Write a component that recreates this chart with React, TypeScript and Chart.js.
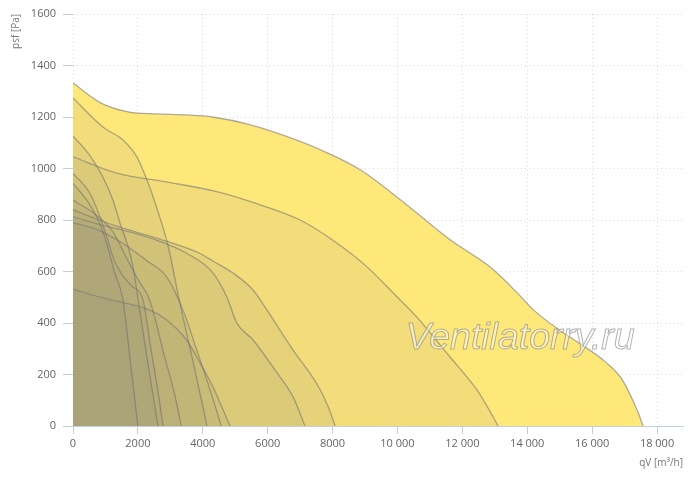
import { Chart, registerables } from 'chart.js';
import { useEffect, useRef } from 'react';

Chart.register(...registerables);

// fan curves: [qV m³/h, psf Pa]
const curveA = [[0, 1332], [850, 1255], [1700, 1220], [2600, 1212], [3500, 1208], [4300, 1200], [5450, 1170], [7000, 1105], [7850, 1060], [8850, 995], [10080, 880], [11600, 725], [12850, 618], [13700, 516], [14200, 450], [15000, 372], [15720, 312], [16400, 250], [16900, 185], [17385, 62], [17570, 0]];
const curveD = [[0, 1045], [1350, 982], [2880, 948], [4430, 910], [5500, 870], [7000, 800], [8000, 722], [9060, 618], [9990, 501], [10600, 423], [11620, 268], [12450, 140], [12950, 35], [13100, 0]];
const curveE = [[0, 840], [800, 800], [1540, 768], [2300, 740], [3080, 709], [3915, 670], [4320, 640], [4932, 594], [5548, 528], [5980, 450], [6782, 295], [7500, 167], [7850, 80], [8080, 0]];
const curveF = [[0, 812], [1030, 776], [2000, 745], [2570, 722], [3500, 671], [4320, 594], [4740, 501], [5050, 400], [5550, 334], [6290, 206], [6782, 113], [7150, 0]];
const curveJ = [[0, 532], [700, 505], [1450, 482], [2370, 450], [2890, 412], [3500, 334], [3920, 244], [4320, 150], [4600, 70], [4840, 0]];
const curveK = [[0, 790], [800, 760], [1540, 709], [2300, 640], [2880, 580], [3390, 450], [3800, 300], [4200, 150], [4570, 0]];
const curveB = [[0, 1274], [920, 1161], [1540, 1111], [1970, 1045], [2280, 955], [2600, 840], [2930, 700], [3290, 480], [3700, 250], [4130, 0]];
const curveI = [[0, 877], [600, 830], [1200, 760], [1700, 640], [2000, 570], [2363, 489], [2800, 280], [3100, 140], [3340, 0]];
const curveG = [[0, 981], [520, 904], [830, 813], [1040, 735], [1250, 650], [1500, 590], [1800, 545], [2158, 489], [2400, 300], [2600, 150], [2775, 0]];
const curveC = [[0, 1126], [520, 1050], [920, 967], [1230, 878], [1450, 788], [1700, 695], [1850, 618], [2010, 489], [2300, 250], [2620, 0]];
const curveH = [[0, 942], [420, 878], [730, 813], [940, 748], [1100, 680], [1300, 590], [1541, 489], [1750, 270], [2000, 0]];

// smallest first (drawn on top), biggest last (drawn at the bottom)
const curves = [curveH, curveC, curveG, curveI, curveB, curveK, curveJ, curveF, curveE, curveD, curveA];

const xTickValues = [0, 2000, 4000, 6000, 8000, 10000, 12000, 14000, 16000, 18000];
const yTickValues = [0, 200, 400, 600, 800, 1000, 1200, 1400, 1600];
const xMax = 18800;

const font = '"Open Sans", "DejaVu Sans", sans-serif';

const fmtX = (v: number) => (v >= 10000 ? `${Math.floor(v / 1000)} ${String(v % 1000).padStart(3, '0')}` : String(v));

const watermark = {
  id: 'watermark',
  afterDatasetsDraw(chart: Chart) {
    const { ctx, chartArea } = chart;
    const text = 'Ventilatorry.ru';
    ctx.save();
    ctx.font = 'italic 36px "Liberation Sans", Arial, sans-serif';
    const w = ctx.measureText(text).width;
    const cx = chartArea.left + (chartArea.right - chartArea.left) * 0.733;
    const cy = chartArea.top + (chartArea.bottom - chartArea.top) * 0.79;
    ctx.translate(cx, cy);
    ctx.scale(229 / w, 1);
    ctx.textAlign = 'center';
    ctx.textBaseline = 'middle';
    ctx.fillStyle = 'rgba(255,255,255,0.5)';
    ctx.strokeStyle = 'rgba(130,130,130,0.6)';
    ctx.lineWidth = 1;
    ctx.fillText(text, 0, 0);
    ctx.strokeText(text, 0, 0);
    ctx.restore();
  },
};

export default function App() {
  const chartRef = useRef<HTMLCanvasElement>(null);

  useEffect(() => {
    const chart = new Chart(chartRef.current!, {
      type: 'line',
      data: {
        datasets: curves.map((c, i) => ({
          data: c.map(([x, y]) => ({ x, y })),
          fill: 'origin',
          backgroundColor: i === curves.length - 1 ? 'rgba(255,230,107,0.9)' : 'rgba(130,123,118,0.1)',
          borderColor: 'rgba(110,110,115,0.55)',
          borderWidth: 1.3,
          pointRadius: 0,
          cubicInterpolationMode: 'monotone' as const,
        })),
      },
      options: {
        animation: false,
        responsive: false,
        layout: { padding: { top: 14, right: 17, left: 0, bottom: 0 } },
        plugins: { legend: { display: false }, tooltip: { enabled: false } },
        scales: {
          x: {
            type: 'linear',
            min: 0,
            max: xMax,
            afterBuildTicks: (s: any) => { s.ticks = xTickValues.map((value) => ({ value })); },
            afterFit: (s: any) => { s.height = 51; },
            ticks: {
              autoSkip: false,
              maxRotation: 0,
              padding: 3,
              color: '#666',
              font: { family: font, size: 11 },
              callback: (v: any) => fmtX(Number(v)),
            },
            grid: { color: '#d9d9d9', tickColor: '#c0d0e0', tickLength: 8 },
            border: { display: true, color: '#c0d0e0', width: 1, dash: [1, 3] },
            title: { display: true, text: 'qV [m³/h]', align: 'end', color: '#777', font: { family: font, size: 10 }, padding: { top: 0, bottom: 8 } },
          },
          y: {
            min: 0,
            max: 1600,
            afterBuildTicks: (s: any) => { s.ticks = yTickValues.map((value) => ({ value })); },
            afterFit: (s: any) => { s.width = 73; },
            ticks: { autoSkip: false, padding: 7, color: '#666', font: { family: font, size: 11 }, callback: (v: any) => String(v) },
            grid: { color: '#d9d9d9', tickColor: '#c0d0e0', tickLength: 10 },
            border: { display: false, dash: [1, 3] },
            title: { display: true, text: 'psf [Pa]', align: 'end', color: '#777', font: { family: font, size: 10 }, padding: { top: 10, bottom: 0 } },
          },
        },
      },
      plugins: [watermark],
    });
    return () => chart.destroy();
  }, []);

  return (
    <div style={{ position: 'absolute', left: 0, top: 0, width: 700, height: 477, background: '#fff' }}>
      <canvas ref={chartRef} width={700} height={477}></canvas>
    </div>
  );
}
